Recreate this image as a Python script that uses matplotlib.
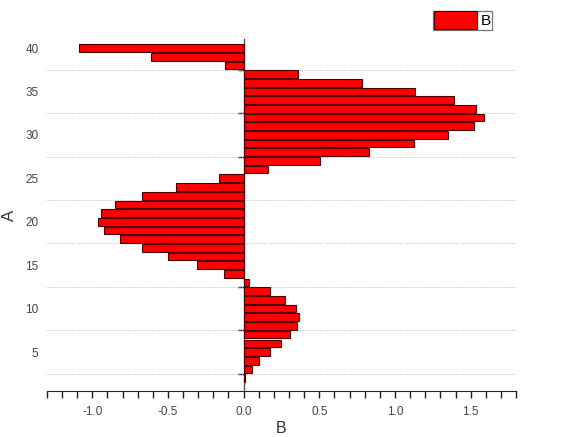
import numpy as np
import matplotlib
matplotlib.use('Agg')
import matplotlib.pyplot as plt
from matplotlib.ticker import MultipleLocator, FixedLocator

plt.rcParams['font.family'] = ['Liberation Sans', 'DejaVu Sans']

# ── data ──
A = list(range(2, 41))
B = [0.01, 0.053, 0.103, 0.171, 0.248, 0.307, 0.353, 0.364, 0.347, 0.276,
     0.175, 0.038,
     -0.132, -0.311, -0.50, -0.673, -0.818, -0.921, -0.96, -0.943, -0.847,
     -0.673, -0.45, -0.162,
     0.162, 0.502, 0.825, 1.123, 1.353, 1.52, 1.586, 1.537, 1.388, 1.13,
     0.779, 0.357,
     -0.12, -0.612, -1.09]
y_labels = [5, 10, 15, 20, 25, 30, 35, 40]
grid_pos = [2.5, 7.5, 12.5, 17.5, 22.5, 27.5, 32.5, 37.5]
x_lim = (-1.3, 1.8)

fig = plt.figure(figsize=(5.78, 4.37), dpi=100)
ax = fig.add_axes([0.081, 0.105, 0.812, 0.805])

ax.barh(A, B, height=0.88, color='#ff0000', edgecolor='#4a0000',
        linewidth=0.8, label='B', zorder=3)

ax.set_xlim(*x_lim)
ax.set_ylim(0.5, 41)

# x axis
ax.xaxis.set_major_locator(MultipleLocator(0.5))
ax.xaxis.set_minor_locator(MultipleLocator(0.1))
ax.xaxis.set_major_formatter(matplotlib.ticker.FormatStrFormatter('%.1f'))
ax.tick_params(axis='x', which='both', direction='out', length=5,
               width=1, color='#222222', labelsize=8.5, labelcolor='#444444', pad=6)

# y axis labels only, no tick marks
ax.yaxis.set_major_locator(FixedLocator(y_labels))
ax.yaxis.set_minor_locator(FixedLocator(grid_pos))
ax.tick_params(axis='y', which='both', length=0, labelsize=8.5,
               labelcolor='#444444', pad=6)
ax.grid(axis='y', which='minor', linestyle=(0, (1, 1.5)), color='#bbbbbb',
        linewidth=0.7, zorder=0)

for side in ['top', 'right', 'left']:
    ax.spines[side].set_visible(False)
ax.spines['bottom'].set_color('#222222')

# vertical axis line at x=0 with its own ticks
zero_frac = (0 - x_lim[0]) / (x_lim[1] - x_lim[0])
sec = ax.secondary_yaxis(zero_frac)
sec.set_yticks(grid_pos)
sec.set_yticklabels([])
sec.tick_params(length=4, width=1, color='#111111', direction='out')
sec.spines['left'].set_color('#444444')
sec.spines['left'].set_linewidth(0.9)

ax.set_ylabel('A', fontsize=12, color='#333333', labelpad=6)
ax.set_xlabel('B', fontsize=11.5, color='#333333', labelpad=2)

leg = ax.legend(loc='center', bbox_to_anchor=(0.80, 0.954),
                bbox_transform=fig.transFigure, fontsize=11,
                fancybox=False, frameon=True, edgecolor='#555555',
                handlelength=2.8, handleheight=1.4, borderpad=0.05,
                handletextpad=0.25, borderaxespad=0)
leg.get_frame().set_linewidth(0.9)

fig.savefig('out.png', dpi=100)
